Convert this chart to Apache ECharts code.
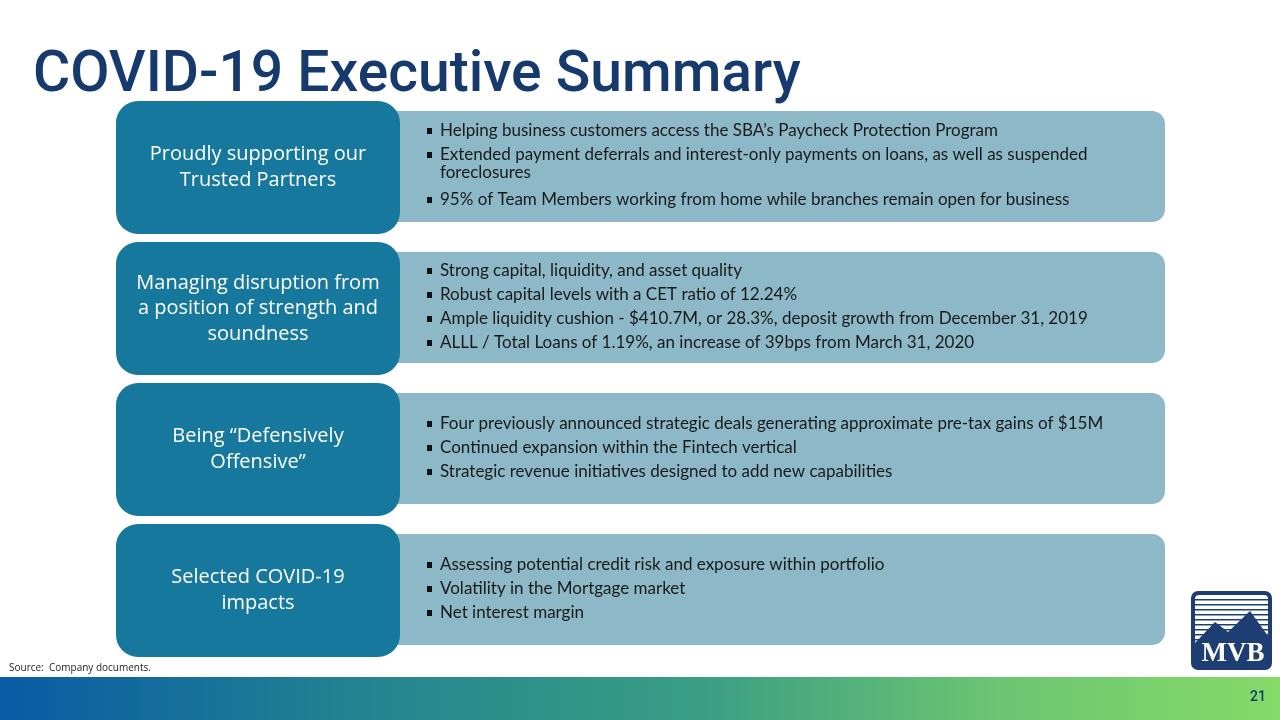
<!DOCTYPE html>
<html><head><meta charset="utf-8">
<script src="https://cdn.jsdelivr.net/npm/echarts@6/dist/echarts.min.js"></script>
<style>html,body{margin:0;padding:0;background:#fff}#c{width:1280px;height:720px}</style>
</head><body><div id="c"></div>
<script>
const titleText = 'COVID-19 Executive Summary';
const headings = [
  ['Proudly supporting our', 'Trusted Partners'],
  ['Managing disruption from', 'a position of strength and', 'soundness'],
  ['Being \u201cDefensively', 'Offensive\u201d'],
  ['Selected COVID-19', 'impacts']
];
const bullets = [
  [['Helping business customers access the SBA\u2019s Paycheck Protection Program'],
   ['Extended payment deferrals and interest-only payments on loans, as well as suspended', 'foreclosures'],
   ['95% of Team Members working from home while branches remain open for business']],
  [['Strong capital, liquidity, and asset quality'],
   ['Robust capital levels with a CET ratio of 12.24%'],
   ['Ample liquidity cushion - $410.7M, or 28.3%, deposit growth from December 31, 2019'],
   ['ALLL / Total Loans of 1.19%, an increase of 39bps from March 31, 2020']],
  [['Four previously announced strategic deals generating approximate pre-tax gains of $15M'],
   ['Continued expansion within the Fintech vertical'],
   ['Strategic revenue initiatives designed to add new capabilities']],
  [['Assessing potential credit risk and exposure within portfolio'],
   ['Volatility in the Mortgage market'],
   ['Net interest margin']]
];
const sourceText = 'Source:  Company documents.';
const pageNumber = '21';

const chart = echarts.init(document.getElementById('c'), null, {renderer: 'canvas'});
const g = [];
const BODY_FONT = 'Lato';
// title
g.push({type: 'text', x: 33, y: 48, style: {text: titleText, fill: '#173A6E', font: '500 57px Roboto', verticalAlign: 'top'}});

const rowTop = [101, 242, 383, 524];
const rowH = 133;
headings.forEach((h, i) => {
  const y = rowTop[i];
  g.push({type: 'rect', shape: {x: 396, y: y + 10, width: 769, height: 111, r: [0, 13, 13, 0]},
    style: {fill: '#8DB8C7'}});
  g.push({type: 'rect', shape: {x: 116, y: y, width: 284, height: rowH, r: 22},
    style: {fill: '#17789D'}});
  const lh = 25.5;
  const startY = y + rowH / 2 - (h.length * lh) / 2 - 3;
  h.forEach((line, k) => {
    g.push({type: 'text', x: 258, y: startY + k * lh + lh / 2 + 3,
      style: {text: line, fill: '#FFFFFF', font: '20px "Open Sans"', align: 'center', verticalAlign: 'middle'}});
  });
  const lineGap = 24;
  let cy;
  if (i === 0) cy = y + 30; else if (i === 1) cy = y + 29; else cy = y + 41;
  bullets[i].forEach((b) => {
    g.push({type: 'rect', shape: {x: 427, y: cy - 3, width: 5, height: 6}, style: {fill: '#111'}});
    b.forEach((line, k) => {
      g.push({type: 'text', x: 440, y: cy + (k > 0 ? 18 * k : 0),
        style: {text: line, fill: '#1a1a1a', font: '17px "' + BODY_FONT + '"', verticalAlign: 'middle'}});
    });
    cy += lineGap + (b.length - 1) * 18 + (b.length > 1 ? 3 : 0);
  });
});

g.push({type: 'text', x: 9, y: 668, style: {text: sourceText, fill: '#222', font: '10px "Open Sans"', verticalAlign: 'middle'}});

g.push({type: 'rect', shape: {x: 0, y: 677, width: 1280, height: 43},
  style: {fill: new echarts.graphic.LinearGradient(0, 0, 1, 0, [
    {offset: 0, color: '#095BA4'}, {offset: 0.3, color: '#26858F'}, {offset: 0.55, color: '#3B9E83'},
    {offset: 0.78, color: '#6CC572'}, {offset: 1, color: '#86DA68'}])}});
g.push({type: 'text', x: 1258, y: 697, style: {text: pageNumber, fill: '#173A6E', font: '500 14px Roboto', align: 'center', verticalAlign: 'middle'}});

// logo
g.push({type: 'rect', shape: {x: 1191, y: 591, width: 81, height: 79, r: 7}, style: {fill: '#1E3D72'}});
g.push({type: 'rect', shape: {x: 1195, y: 595, width: 73, height: 50, r: [4, 4, 0, 0]}, style: {fill: '#FFFFFF'}});
for (let k = 0; k < 9; k++) {
  g.push({type: 'rect', shape: {x: 1195, y: 599 + k * 5, width: 73, height: 1.6}, style: {fill: '#1E3D72'}});
}
g.push({type: 'polygon', shape: {points: [[1195, 643], [1215, 622], [1228, 632], [1250, 611], [1268, 636], [1268, 650], [1195, 650]]},
  style: {fill: '#1E3D72'}});
g.push({type: 'text', x: 1233, y: 654, style: {text: 'MVB', fill: '#FFFFFF', font: 'bold 27px "Liberation Serif"', align: 'center', verticalAlign: 'middle'}});

chart.setOption({animation: false, graphic: {elements: g}});
</script></body></html>
